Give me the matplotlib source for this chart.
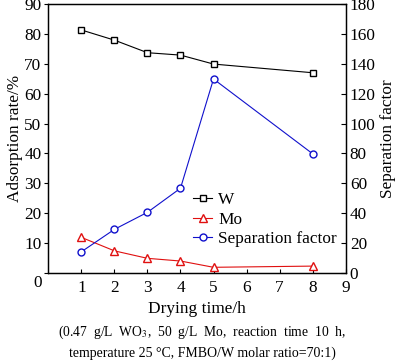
import matplotlib
matplotlib.use("Agg")
import matplotlib.pyplot as plt
from matplotlib.transforms import ScaledTranslation

plt.rcParams['font.family'] = ['Liberation Serif', 'DejaVu Serif']
plt.rcParams['mathtext.fontset'] = 'stix'

drying_time = [1, 2, 3, 4, 5, 8]
w_rate = [81.3, 77.9, 73.7, 72.9, 69.9, 67.0]
mo_rate = [11.9, 7.4, 4.9, 4.0, 1.9, 2.3]
sep_factor = [14.2, 29.2, 40.6, 56.7, 129.8, 79.8]

x_ticks = [1, 2, 3, 4, 5, 6, 7, 8, 9]
left_ticks = [0, 10, 20, 30, 40, 50, 60, 70, 80, 90]
right_ticks = [0, 20, 40, 60, 80, 100, 120, 140, 160, 180]

fig = plt.figure(figsize=(4.0, 3.63), dpi=100)
ax = fig.add_axes([0.121, 0.248, 0.743, 0.741])
ax2 = ax.twinx()

fs = 12.4
blue = '#1010cc'
red = '#e01010'

l1, = ax.plot(drying_time, w_rate, color='black', lw=0.8, marker='s', ms=4.2,
              mfc='white', mec='black', mew=1.0, label='W')
l2, = ax.plot(drying_time, mo_rate, color=red, lw=0.8, marker='^', ms=5.5,
              mfc='white', mec=red, mew=1.0, label='Mo')
l3, = ax2.plot(drying_time, sep_factor, color=blue, lw=0.8, marker='o', ms=5,
               mfc='white', mec=blue, mew=1.0, label='Separation factor')

ax.set_xlim(0, 9)
ax.set_ylim(0, 90)
ax2.set_ylim(0, 180)
ax.set_xticks(x_ticks)
ax.set_yticks(left_ticks)
ax2.set_yticks(right_ticks)

ax.tick_params(axis='x', direction='in', length=3, width=0.8, labelsize=fs, pad=5)
ax.tick_params(axis='y', direction='out', length=3, width=0.8, labelsize=fs, pad=2)
ax2.tick_params(axis='y', direction='in', length=3.5, width=0.8, labelsize=fs, pad=3)
for a in (ax, ax2):
    for s in a.spines.values():
        s.set_linewidth(0.9)

# the left "0" label sits a little below its tick in the reference
lbl0 = ax.get_yticklabels()[0]
lbl0.set_transform(lbl0.get_transform() + ScaledTranslation(0, -6 / 72, fig.dpi_scale_trans))

ax.set_xlabel('Drying time/h', fontsize=fs, labelpad=4)
ax.set_ylabel('Adsorption rate/%', fontsize=fs, labelpad=1)
ax2.set_ylabel('Separation factor', fontsize=fs, labelpad=3)

leg = ax2.legend(handles=[l1, l2, l3], loc='upper left',
                 bbox_to_anchor=(0.488, 0.30), frameon=False, fontsize=fs,
                 handlelength=1.1, handletextpad=0.35, labelspacing=0.2,
                 borderaxespad=0, borderpad=0)

fig.text(0.505, 0.084, '(0.47  g/L  WO$_3$,  50  g/L  Mo,  reaction  time  10  h,',
         ha='center', va='center', fontsize=9.8)
fig.text(0.505, 0.027, 'temperature 25 \u00b0C, FMBO/W molar ratio=70:1)',
         ha='center', va='center', fontsize=10)

fig.savefig('out.png', dpi=100)
